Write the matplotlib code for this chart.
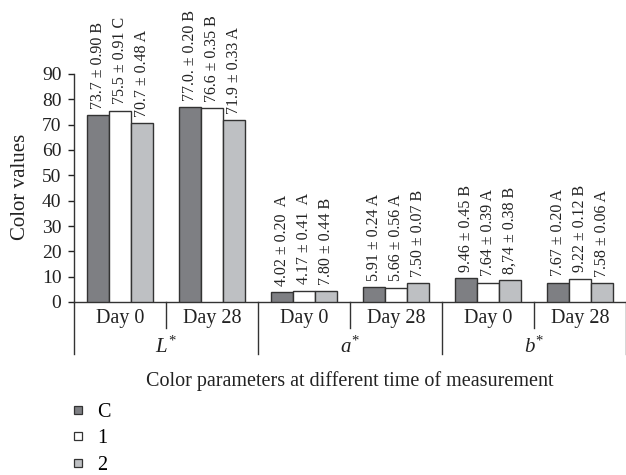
import matplotlib
matplotlib.use("Agg")
import matplotlib.pyplot as plt
from matplotlib.lines import Line2D
import numpy as np

plt.rcParams['font.family'] = ['Liberation Serif', 'DejaVu Serif']
plt.rcParams['mathtext.fontset'] = 'custom'
plt.rcParams['mathtext.rm'] = 'Liberation Serif'
plt.rcParams['mathtext.it'] = 'Liberation Serif:italic'

# ---- data ----
day_labels = ["Day 0", "Day 28", "Day 0", "Day 28", "Day 0", "Day 28"]
param_labels = [r"$L^{*}$", r"$a^{*}$", r"$b^{*}$"]
series_names = ["C", "1", "2"]
values_C = [73.7, 77.0, 4.02, 5.91, 9.46, 7.67]
values_1 = [75.5, 76.6, 4.5, 5.66, 7.64, 9.22]
values_2 = [70.7, 71.9, 4.4, 7.50, 8.74, 7.58]
labels_C = ["73.7 ± 0.90 B", "77.0. ± 0.20 B", "4.02 ± 0.20  A", "5.91 ± 0.24 A", "9.46 ± 0.45 B", "7.67 ± 0.20 A"]
labels_1 = ["75.5 ± 0.91 C", "76.6 ± 0.35 B", "4.17 ± 0.41  A", "5.66 ± 0.56 A", "7.64 ± 0.39 A", "9.22 ± 0.12 B"]
labels_2 = ["70.7 ± 0.48 A", "71.9 ± 0.33 A", "7.80 ± 0.44 B", "7.50 ± 0.07 B", "8,74 ± 0.38 B", "7.58 ± 0.06 A"]
yticks = [0, 10, 20, 30, 40, 50, 60, 70, 80, 90]

colors = ["#7e7f83", "#ffffff", "#bec0c3"]
edge = "#333333"

W, H = 626, 475
fig = plt.figure(figsize=(W / 100, H / 100), dpi=100)
x0, x1, y0, y1 = 74, 626, 302, 74
ax = fig.add_axes([x0 / W, 1 - y0 / H, (x1 - x0) / W, (y0 - y1) / H])

n = len(day_labels)
centers = np.arange(n) + 0.5
bw = 0.238
all_vals = [values_C, values_1, values_2]
all_labels = [labels_C, labels_1, labels_2]
for i, (vals, labs) in enumerate(zip(all_vals, all_labels)):
    xs = centers + (i - 1) * bw
    bars = ax.bar(xs, vals, width=bw, color=colors[i], edgecolor=edge, linewidth=1.0,
                  label=series_names[i], zorder=3)
    for b, lab in zip(bars, labs):
        ax.annotate(lab, (b.get_x() + b.get_width() / 2, b.get_height()),
                    xytext=(0, 4.5), textcoords="offset points", rotation=90,
                    ha="center", va="bottom", fontsize=11.5, color="#222222")

ax.set_xlim(0, n)
ax.set_ylim(0, 90)
ax.set_yticks(yticks)
ax.tick_params(axis='y', direction='out', length=4, width=1, labelsize=14, pad=5, colors="#222222")
ax.set_xticks([])
for s in ["top", "right"]:
    ax.spines[s].set_visible(False)
ax.spines["left"].set_linewidth(1)
ax.spines["bottom"].set_linewidth(1)
ax.spines["left"].set_color("#333333")
ax.spines["bottom"].set_color("#333333")

tr = ax.get_xaxis_transform()
ph = (y0 - y1)
def fy(py):
    return (y0 - py) / ph

# separators
for xs in [1, 3, 5]:
    ax.plot([xs, xs], [0, fy(328)], transform=tr, color="#333333", lw=1, clip_on=False)
for xs in [0, 2, 4, 6]:
    ax.plot([xs, xs], [0, fy(354)], transform=tr, color="#333333", lw=1, clip_on=False)

for c, lab in zip(centers, day_labels):
    ax.text(c, fy(318), lab, transform=tr, ha="center", va="center", fontsize=14.5, color="#222222")
for k, lab in enumerate(param_labels):
    ax.text(2 * k + 1, fy(347), lab, transform=tr, ha="center", va="center", fontsize=15, color="#222222")

ax.set_xlabel("Color parameters at different time of measurement", fontsize=14.5, color="#222222")
ax.xaxis.set_label_coords(0.5, fy(371))
ax.set_ylabel("Color values", fontsize=15, color="#222222")
ax.yaxis.set_label_coords((30 - x0) / (x1 - x0), fy(187))

handles = [Line2D([], [], marker='s', linestyle='None', markersize=5.5,
                  markerfacecolor=colors[i], markeredgecolor=edge, markeredgewidth=0.9)
           for i in range(3)]
fig.legend(handles, series_names, loc="upper left", bbox_to_anchor=(68 / W, 1 - 403 / H),
           frameon=False, fontsize=14.5, handlelength=1.0, handletextpad=0.45,
           labelspacing=0.36, borderpad=0, borderaxespad=0)

fig.savefig("out.png", dpi=100)
